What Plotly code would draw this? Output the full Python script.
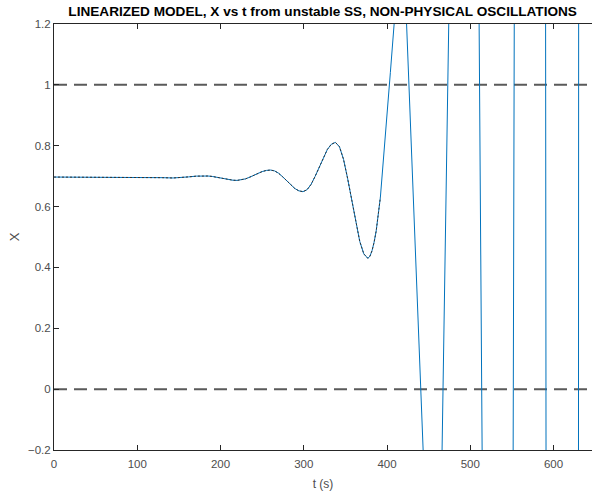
import plotly.graph_objects as go

# time (s) and X values
t_vals = [0, 50, 100, 130, 143, 152, 161.5, 171, 180, 185, 190, 195, 200, 205, 210, 215,
          220, 225, 230, 235, 240, 245, 250, 255, 260,
          264.9, 269.75, 274.6, 279.5, 284.4, 289.25, 294.1, 299,
          303.9, 308.75, 313.6, 318.5, 323.4, 328.25, 333.1, 338,
          342.9, 347.75, 352.6, 357.5, 362.4, 367.25, 372.1, 377,
          379.5, 382, 384.5, 387, 392, 396, 399, 404,
          418.5, 459.6, 499.3, 541.5, 580, 620, 655]
x_vals = [0.697, 0.697, 0.696, 0.695, 0.694, 0.695, 0.6975, 0.700, 0.701, 0.7004, 0.699,
          0.6963, 0.6935, 0.6906, 0.688, 0.6866,
          0.686, 0.6873, 0.691, 0.6965, 0.703, 0.7095, 0.715, 0.7187, 0.720,
          0.7173, 0.7096, 0.698, 0.6845, 0.671, 0.6594, 0.6517, 0.649,
          0.6552, 0.6727, 0.699, 0.730, 0.761, 0.7873, 0.8048, 0.811,
          0.7965, 0.7554, 0.6933, 0.6205, 0.5477, 0.4856, 0.4445, 0.430,
          0.437, 0.455, 0.483, 0.52, 0.63, 0.76, 0.87, 1.04,
          1.55, -1.34, 5.6, -10.8, 30, -80, 200]

# dotted overlay covers the early part of the same curve
overlay_end = 392

ref_levels = [1, 0]
x_ticks = [0, 100, 200, 300, 400, 500, 600]
y_ticks = [-0.2, 0, 0.2, 0.4, 0.6, 0.8, 1, 1.2]
x_range = [0, 646.2]
y_range = [-0.2, 1.2]

FONT = "Liberation Sans, Arial"

fig = go.Figure()

for lv in ref_levels:
    fig.add_trace(go.Scatter(x=[x_range[0], x_range[1] + 20], y=[lv, lv], mode="lines",
                             line=dict(color="#5a5a5a", width=2, dash="13px,7px"),
                             hoverinfo="skip", showlegend=False))

fig.add_trace(go.Scatter(x=t_vals, y=x_vals, mode="lines",
                         line=dict(color="#0072BD", width=1),
                         showlegend=False))

ov_t = [t for t in t_vals if t <= overlay_end]
ov_x = x_vals[:len(ov_t)]
fig.add_trace(go.Scatter(x=ov_t, y=ov_x, mode="lines",
                         line=dict(color="#333333", width=1, dash="2px,2px"),
                         showlegend=False))

axis_common = dict(showgrid=False, zeroline=False, ticks="inside", ticklen=5,
                   tickcolor="#262626", linecolor="#262626", linewidth=1,
                   showline=True, tickfont=dict(family=FONT, size=11.5, color="#4d4d4d"))

fig.update_layout(
    width=592, height=491,
    margin=dict(l=54, r=0, t=24, b=41),
    paper_bgcolor="white", plot_bgcolor="white",
    title=dict(text="<b>LINEARIZED MODEL, X vs t from unstable SS, NON-PHYSICAL OSCILLATIONS</b>",
               x=0.545, xanchor="center", y=0.978, yanchor="middle",
               font=dict(family=FONT, size=13.6, color="#000000")),
    xaxis=dict(range=x_range, tickvals=x_ticks, mirror="ticks", ticklabelstandoff=3,
               title=dict(text="t (s)", font=dict(family=FONT, size=12, color="#4d4d4d"), standoff=10),
               **axis_common),
    yaxis=dict(range=y_range, tickvals=y_ticks,
               title=dict(text="X", font=dict(family=FONT, size=13, color="#4d4d4d"), standoff=5),
               **axis_common),
)

fig.write_html("out.html")
